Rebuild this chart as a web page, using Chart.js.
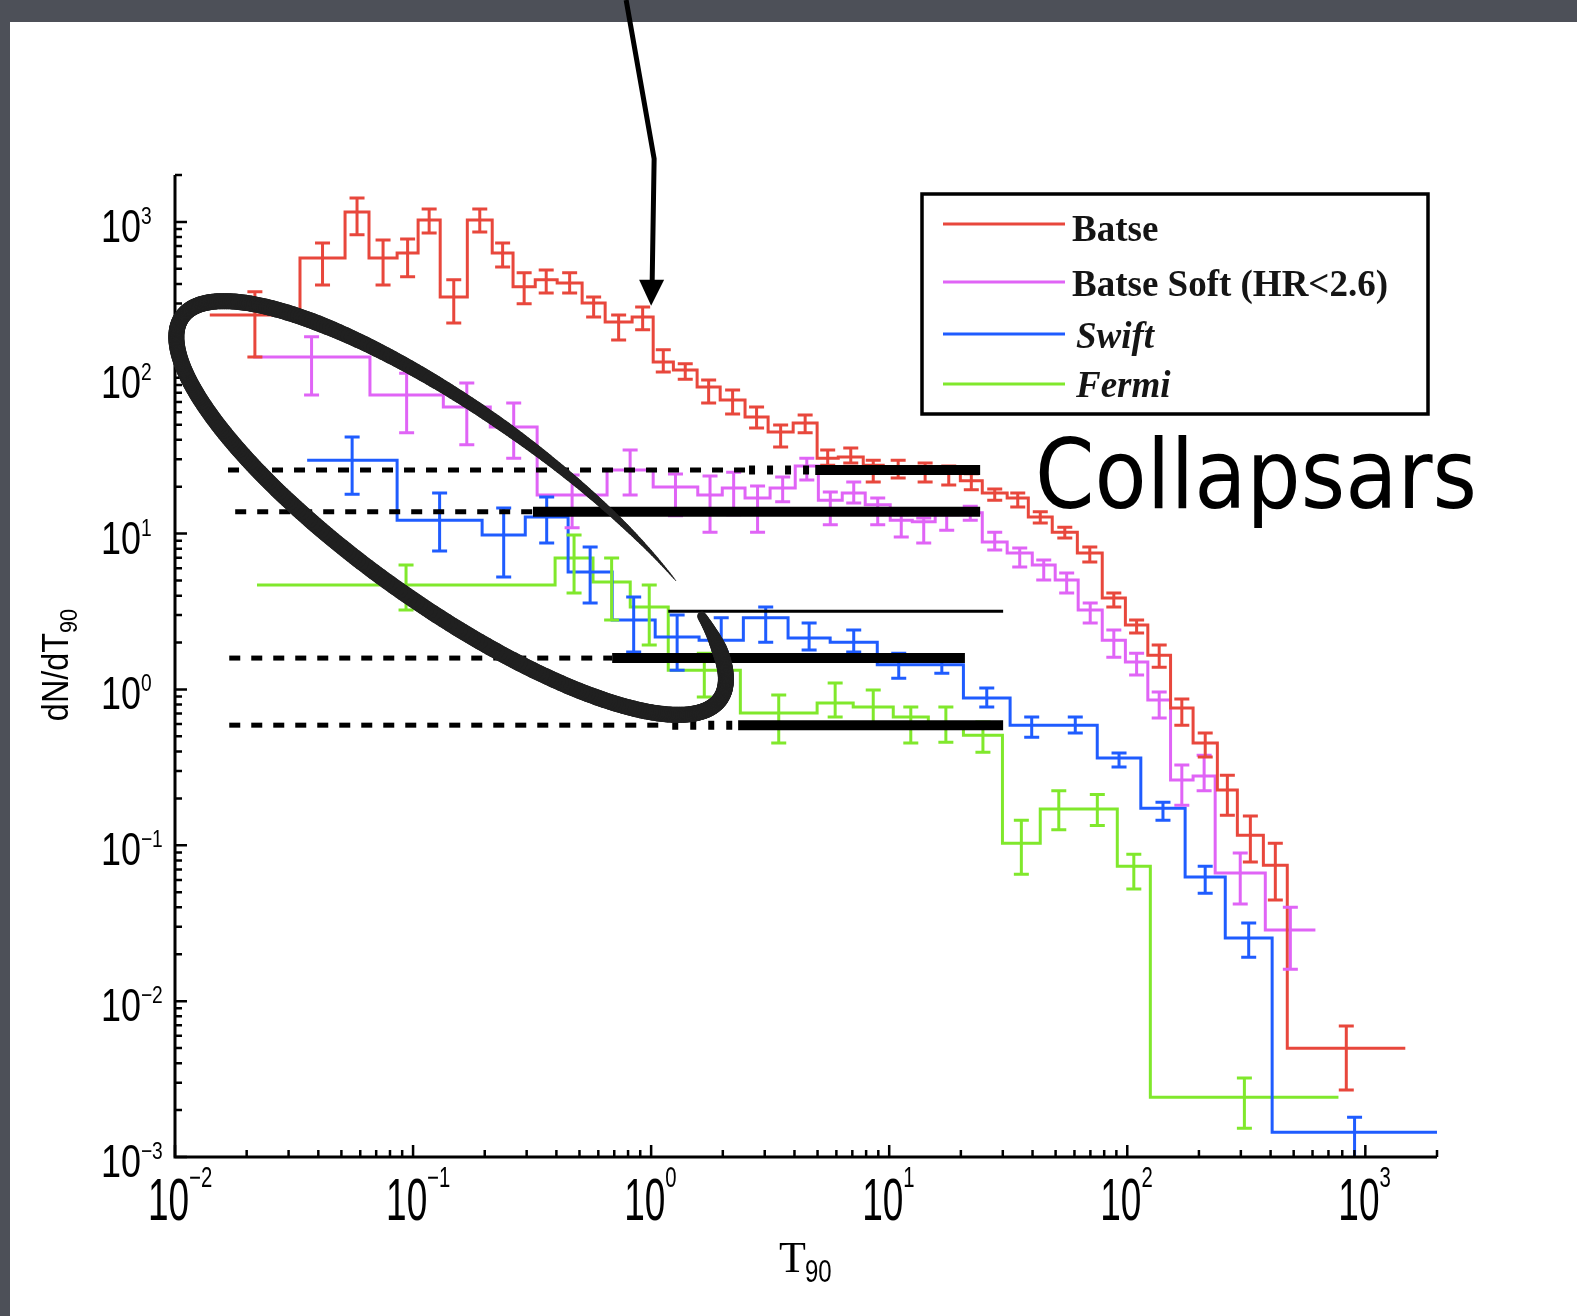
<!DOCTYPE html>
<html>
<head>
<meta charset="utf-8">
<script src="https://cdn.jsdelivr.net/npm/chart.js@4.4.1/dist/chart.umd.min.js"></script>
<style>
  html, body { margin: 0; padding: 0; }
  body { width: 1577px; height: 1316px; background: #4d5058; position: relative; overflow: hidden; }
  .panel { position: absolute; left: 10px; top: 22px; right: 0; bottom: 0; background: #fff; }
  #chart { position: absolute; left: 0; top: 0; }
</style>
</head>
<body>
<div class="panel"></div>
<canvas id="chart" width="1577" height="1316"></canvas>
<script>
// T90 bin edges (s), dN/dT90 per bin, and the low / high end of each error bar
const batseEdges = [0.0140, 0.0335, 0.0518, 0.0653, 0.0857, 0.105, 0.130, 0.169, 0.215, 0.263, 0.326, 0.403, 0.513, 0.641, 0.832, 1.02, 1.24, 1.56, 1.95, 2.48, 3.10, 3.95, 4.98, 6.11, 7.78, 9.44, 12.6, 15.9, 19.9, 24.6, 31.3, 38.4, 48.4, 61.7, 78.5, 98.2, 122, 152, 189, 239, 290, 373, 470, 1472];
const batseValues = [253, 587, 1159, 587, 632, 1030, 330, 1030, 632, 383, 425, 406, 302, 228, 245, 126, 112, 87.3, 72.1, 56.0, 44.9, 51.3, 30.5, 31.0, 27.5, 26.4, 25.6, 24.8, 21.8, 18.2, 16.9, 12.8, 10.2, 7.50, 3.86, 2.59, 1.66, 0.760, 0.453, 0.226, 0.116, 0.0746, 0.00499];
const batseLow = [136, 394, 826, 394, 444, 850, 225, 863, 514, 298, 350, 350, 245, 175, 203, 109, 98, 68.9, 58.6, 47.6, 36.0, 44.3, 27.5, 28.4, 21.4, 22.7, 21.4, 20.5, 19.1, 16.4, 14.8, 11.7, 9.38, 6.58, 3.38, 2.30, 1.39, 0.590, 0.368, 0.156, 0.078, 0.0445, 0.00269];
const batseHigh = [356, 733, 1426, 766, 778, 1212, 425, 1212, 733, 471, 492, 471, 330, 253, 285, 151, 123, 96.8, 83.6, 65.0, 49.8, 57.7, 34.4, 35.4, 29.6, 29.6, 28.4, 27.2, 24.2, 19.3, 18.2, 13.8, 11.0, 8.20, 4.16, 2.79, 1.93, 0.867, 0.525, 0.282, 0.154, 0.103, 0.00692];

const softEdges = [0.0213, 0.0659, 0.134, 0.211, 0.332, 0.653, 1.02, 1.57, 1.99, 2.48, 3.16, 4.03, 5.04, 6.35, 7.93, 10.1, 12.5, 15.6, 19.5, 24.6, 31.3, 39.9, 49.8, 62.2, 78.5, 98.2, 122, 152, 189, 234, 380, 617];
const softValues = [136, 77.6, 65.0, 48.3, 17.7, 25.6, 19.9, 17.7, 19.6, 16.9, 19.6, 27.2, 16.4, 18.2, 15.3, 12.2, 11.9, 13.2, 13.6, 8.83, 7.50, 6.28, 5.04, 3.24, 2.07, 1.50, 0.855, 0.262, 0.278, 0.0664, 0.0286];
const softLow = [77.6, 44.3, 37.1, 30.5, 10.9, 17.7, 13.0, 10.2, 13.2, 10.2, 16.0, 22.1, 11.4, 15.7, 11.4, 9.51, 8.71, 10.5, 12.2, 7.85, 6.11, 5.04, 4.16, 2.67, 1.61, 1.24, 0.655, 0.181, 0.224, 0.0420, 0.0160];
const softHigh = [183, 107, 92.7, 68.9, 23.8, 34.4, 24.1, 23.4, 24.8, 20.2, 23.1, 30.5, 18.5, 21.4, 16.9, 13.2, 12.6, 14.2, 15.0, 10.2, 8.09, 6.77, 5.58, 3.59, 2.41, 1.71, 0.962, 0.327, 0.379, 0.0891, 0.0401];

const swiftEdges = [0.0359, 0.0857, 0.195, 0.296, 0.448, 0.686, 1.04, 1.59, 2.44, 3.76, 5.65, 8.91, 13.5, 20.5, 32.2, 48.9, 74.8, 114, 175, 258, 406, 2000];
const swiftValues = [29.6, 12.2, 9.80, 12.8, 5.68, 2.79, 2.17, 2.07, 2.88, 2.14, 2.01, 1.44, 1.44, 0.881, 0.590, 0.590, 0.363, 0.173, 0.0625, 0.0254, 0.00144];
const swiftLow = [17.9, 7.73, 5.26, 8.71, 3.59, 1.74, 1.33, 1.74, 2.01, 1.79, 1.74, 1.18, 1.27, 0.771, 0.494, 0.525, 0.318, 0.145, 0.0493, 0.0191, 0.00095];
const swiftHigh = [41.7, 18.2, 14.6, 17.2, 8.20, 3.92, 3.00, 2.88, 3.38, 2.67, 2.41, 1.71, 1.55, 1.02, 0.665, 0.665, 0.391, 0.189, 0.0735, 0.0317, 0.00180];

const fermiEdges = [0.0221, 0.395, 0.570, 0.817, 1.18, 2.37, 4.98, 7.06, 10.4, 14.6, 20.5, 29.9, 43.1, 61.7, 90.8, 125, 771];
const fermiValues = [4.68, 6.97, 4.89, 3.38, 1.33, 0.705, 0.818, 0.771, 0.665, 0.590, 0.509, 0.103, 0.171, 0.171, 0.0735, 0.00242];
const fermiLow = [3.24, 4.16, 2.79, 1.93, 0.894, 0.453, 0.665, 0.608, 0.453, 0.459, 0.396, 0.0653, 0.126, 0.134, 0.0524, 0.00153];
const fermiHigh = [6.28, 9.80, 6.97, 4.68, 1.71, 0.920, 1.10, 0.991, 0.771, 0.771, 0.618, 0.145, 0.224, 0.212, 0.0877, 0.00321];

// decades that get a "10^n" label
const xTickPowers = [-2, -1, 0, 1, 2, 3];
const yTickPowers = [-3, -2, -1, 0, 1, 2, 3];

// hand-drawn reference levels: dashed run, optional dotted run, heavy bar
const levelY = [25.6, 13.8, 1.59, 0.590];
const levelDashStart = [0.0167, 0.0179, 0.0169, 0.0169];
const levelDashEnd = [2.48, 0.319, 0.686, 1.18];
const levelBarStart = [4.89, 0.319, 0.686, 2.32];
const levelBarEnd = [24.1, 24.1, 20.8, 30.1];
// thin solid level
const thinLevel = { y: 3.18, from: 1.18, to: 30.1 };

const legendLabels = ['Batse', 'Batse Soft (HR<2.6)', 'Swift', 'Fermi'];
const seriesColors = ['#e8473c', '#e064f6', '#1f5cff', '#80e82c'];

const X_MIN = 0.01, X_MAX = 2000, Y_MIN = 0.001, Y_MAX = 2000;

// histogram outline: one point per left edge plus the closing right edge
const stepPoints = (edges, values) => {
  const pts = values.map((v, i) => ({ x: edges[i], y: v }));
  pts.push({ x: edges[edges.length - 1], y: values[values.length - 1] });
  return pts;
};

const makeSeries = (i, edges, values, low, high) => ({
  label: legendLabels[i],
  data: stepPoints(edges, values),
  edges, errLow: low, errHigh: high,
  borderColor: seriesColors[i],
  borderWidth: 3,
  stepped: 'before',
  pointRadius: 0,
  fill: false
});

const datasets = [
  makeSeries(0, batseEdges, batseValues, batseLow, batseHigh),
  makeSeries(1, softEdges, softValues, softLow, softHigh),
  makeSeries(2, swiftEdges, swiftValues, swiftLow, swiftHigh),
  makeSeries(3, fermiEdges, fermiValues, fermiLow, fermiHigh)
];

const SANS = '"Liberation Sans", Arial, sans-serif';

// text squeezed/stretched the way the condensed axis font looks
function drawScaled(ctx, text, x, y, sx, sy) {
  ctx.save();
  ctx.translate(x, y);
  ctx.scale(sx, sy);
  ctx.fillText(text, 0, 0);
  const w = ctx.measureText(text).width * sx;
  ctx.restore();
  return w;
}

// vertical error bars with caps at each bin centre
const errorBars = {
  id: 'errorBars',
  afterDatasetsDraw(chart) {
    const { ctx, chartArea, scales: { x, y } } = chart;
    ctx.save();
    ctx.beginPath();
    ctx.rect(chartArea.left, chartArea.top - 3, chartArea.right - chartArea.left, chartArea.bottom - chartArea.top + 3);
    ctx.clip();
    ctx.lineWidth = 3;
    for (let d = chart.data.datasets.length - 1; d >= 0; d--) {
      const ds = chart.data.datasets[d];
      ctx.strokeStyle = ds.borderColor;
      ds.errLow.forEach((lo, i) => {
        const xc = x.getPixelForValue(Math.sqrt(ds.edges[i] * ds.edges[i + 1]));
        const yLo = y.getPixelForValue(lo);
        const yHi = y.getPixelForValue(ds.errHigh[i]);
        ctx.beginPath();
        ctx.moveTo(xc, yLo); ctx.lineTo(xc, yHi);
        ctx.moveTo(xc - 7.5, yLo); ctx.lineTo(xc + 7.5, yLo);
        ctx.moveTo(xc - 7.5, yHi); ctx.lineTo(xc + 7.5, yHi);
        ctx.stroke();
      });
    }
    ctx.restore();
  }
};

// left and bottom axes with inward ticks and 10^n labels
const axes = {
  id: 'axes',
  afterDraw(chart) {
    const { ctx, chartArea: ca, scales: { x, y } } = chart;
    ctx.save();
    ctx.strokeStyle = '#000';
    ctx.fillStyle = '#000';
    ctx.lineWidth = 3;
    ctx.beginPath();
    ctx.moveTo(ca.left, ca.top); ctx.lineTo(ca.left, ca.bottom); ctx.lineTo(ca.right, ca.bottom);
    ctx.stroke();

    ctx.lineWidth = 2.5;
    ctx.beginPath();
    for (let p = -3; p <= 3; p++) {
      for (let m = 1; m <= 9; m++) {
        const v = m * Math.pow(10, p);
        const len = m === 1 ? 12 : 7;
        if (v >= Y_MIN * 0.999 && v <= Y_MAX * 1.001) {
          const py = y.getPixelForValue(v);
          ctx.moveTo(ca.left, py); ctx.lineTo(ca.left + len, py);
        }
        if (v >= X_MIN * 0.999 && v <= X_MAX * 1.001) {
          const px = x.getPixelForValue(v);
          ctx.moveTo(px, ca.bottom); ctx.lineTo(px, ca.bottom - len);
        }
      }
    }
    ctx.stroke();

    const expText = p => (p < 0 ? '\u2212' + (-p) : String(p));
    ctx.textBaseline = 'alphabetic';
    ctx.textAlign = 'left';
    yTickPowers.forEach(p => {
      const py = y.getPixelForValue(Math.pow(10, p));
      ctx.font = '46px ' + SANS;
      const w = drawScaled(ctx, '10', 101, py + 20, 0.78, 1);
      ctx.font = '24px ' + SANS;
      drawScaled(ctx, expText(p), 101 + w, py + 2, 0.8, 1);
    });
    xTickPowers.forEach(p => {
      const px = x.getPixelForValue(Math.pow(10, p));
      ctx.font = '50px ' + SANS;
      const w = drawScaled(ctx, '10', px - 27, ca.bottom + 63, 0.74, 1.18);
      ctx.font = '26px ' + SANS;
      drawScaled(ctx, expText(p), px - 27 + w, ca.bottom + 30, 0.78, 1.1);
    });

    // axis titles
    ctx.save();
    ctx.translate(68, 665);
    ctx.rotate(-Math.PI / 2);
    ctx.font = '36px ' + SANS;
    const w1 = ctx.measureText('dN/dT').width * 0.9;
    ctx.font = '24px ' + SANS;
    const w2 = ctx.measureText('90').width * 0.9;
    ctx.font = '36px ' + SANS;
    drawScaled(ctx, 'dN/dT', -(w1 + w2) / 2, 0, 0.9, 1);
    ctx.font = '24px ' + SANS;
    drawScaled(ctx, '90', -(w1 + w2) / 2 + w1, 9, 0.9, 1);
    ctx.restore();

    ctx.font = '44px "Liberation Serif", serif';
    ctx.fillText('T', 779, 1272);
    const wt = ctx.measureText('T').width;
    ctx.font = '30px ' + SANS;
    drawScaled(ctx, '90', 779 + wt - 1, 1282, 0.8, 1.05);
    ctx.restore();
  }
};

// black annotations: level lines, ellipse, arrow, legend and label
const overlay = {
  id: 'overlay',
  afterDraw(chart) {
    const { ctx, scales: { x, y } } = chart;
    ctx.save();
    ctx.strokeStyle = '#000';
    ctx.lineCap = 'butt';

    levelY.forEach((lv, i) => {
      const py = y.getPixelForValue(lv);
      ctx.lineWidth = 5;
      ctx.setLineDash([11, 11]);
      ctx.beginPath();
      ctx.moveTo(x.getPixelForValue(levelDashStart[i]), py);
      ctx.lineTo(x.getPixelForValue(levelDashEnd[i]), py);
      ctx.stroke();
      if (levelBarStart[i] > levelDashEnd[i]) {
        ctx.lineWidth = 9;
        ctx.setLineDash([6, 12]);
        ctx.beginPath();
        ctx.moveTo(x.getPixelForValue(levelDashEnd[i]) + 4, py);
        ctx.lineTo(x.getPixelForValue(levelBarStart[i]), py);
        ctx.stroke();
      }
      ctx.setLineDash([]);
      ctx.lineWidth = 10;
      ctx.beginPath();
      ctx.moveTo(x.getPixelForValue(levelBarStart[i]), py);
      ctx.lineTo(x.getPixelForValue(levelBarEnd[i]), py);
      ctx.stroke();
    });
    ctx.lineWidth = 3;
    ctx.beginPath();
    ctx.moveTo(x.getPixelForValue(thinLevel.from), y.getPixelForValue(thinLevel.y));
    ctx.lineTo(x.getPixelForValue(thinLevel.to), y.getPixelForValue(thinLevel.y));
    ctx.stroke();

    // brush ellipse round the short-duration end
    const cx = x.getPixelForValue(0.1445), cy = y.getPixelForValue(14.6);
    const a = 330, b = 97, rot = 35.4 * Math.PI / 180;
    const cr = Math.cos(rot), sr = Math.sin(rot);
    const widthAt = t => {
      if (t < -24) return 9 + (t + 36) / 12 * 7;
      if (t < 230) return 16;
      if (t < 270) return 16 - (t - 230) / 40 * 4;
      if (t < 298) return 12 - (t - 270) / 28 * 6;
      return Math.max(1, 6 - (t - 298) / 15 * 5);
    };
    const pt = tDeg => {
      const t = tDeg * Math.PI / 180;
      const ex = a * Math.cos(t), ey = b * Math.sin(t);
      return { x: cx + ex * cr - ey * sr, y: cy + ex * sr + ey * cr };
    };
    ctx.strokeStyle = '#202020';
    ctx.lineCap = 'round';
    const t0 = -36, t1 = 313, n = 500;
    let prev = pt(t0);
    for (let i = 1; i <= n; i++) {
      const tDeg = t0 + (t1 - t0) * i / n;
      const cur = pt(tDeg);
      ctx.lineWidth = widthAt(tDeg);
      ctx.beginPath();
      ctx.moveTo(prev.x, prev.y);
      ctx.lineTo(cur.x, cur.y);
      ctx.stroke();
      prev = cur;
    }

    // arrow down onto the Batse bin at ~1 s
    const tipX = x.getPixelForValue(1.0), tipY = y.getPixelForValue(290);
    ctx.strokeStyle = '#000';
    ctx.fillStyle = '#000';
    ctx.lineCap = 'butt';
    ctx.lineWidth = 5;
    ctx.beginPath();
    ctx.moveTo(tipX - 25, 0);
    ctx.lineTo(tipX + 3, tipY - 147);
    ctx.lineTo(tipX + 1, tipY - 22);
    ctx.stroke();
    ctx.beginPath();
    ctx.moveTo(tipX - 12, tipY - 26);
    ctx.lineTo(tipX + 13, tipY - 26);
    ctx.lineTo(tipX, tipY);
    ctx.closePath();
    ctx.fill();

    // legend
    ctx.lineWidth = 3.5;
    ctx.strokeRect(922, 194, 506, 220);
    const rows = [224, 282, 334, 384];
    const baselines = [241, 296, 348, 397];
    rows.forEach((ry, i) => {
      ctx.strokeStyle = seriesColors[i];
      ctx.lineWidth = 3;
      ctx.beginPath();
      ctx.moveTo(943, ry); ctx.lineTo(1065, ry);
      ctx.stroke();
      ctx.font = (i >= 2 ? 'italic ' : '') + 'bold 37px "Liberation Serif", serif';
      ctx.fillStyle = '#151515';
      ctx.fillText(legendLabels[i], i >= 2 ? 1076 : 1072, baselines[i]);
    });

    // label
    ctx.font = '96px "DejaVu Sans", sans-serif';
    const lw = ctx.measureText('Collapsars').width;
    ctx.fillStyle = '#000';
    drawScaled(ctx, 'Collapsars', 1035, 508, 442 / lw, 1);

    ctx.restore();
  }
};

new Chart(document.getElementById('chart'), {
  type: 'line',
  data: { datasets },
  options: {
    responsive: false,
    animation: false,
    events: [],
    layout: { padding: { left: 175, right: 140, top: 175, bottom: 159 } },
    plugins: { legend: { display: false }, tooltip: { enabled: false } },
    scales: {
      x: { type: 'logarithmic', min: X_MIN, max: X_MAX, display: false },
      y: { type: 'logarithmic', min: Y_MIN, max: Y_MAX, display: false }
    }
  },
  plugins: [errorBars, axes, overlay]
});
</script>
</body>
</html>
